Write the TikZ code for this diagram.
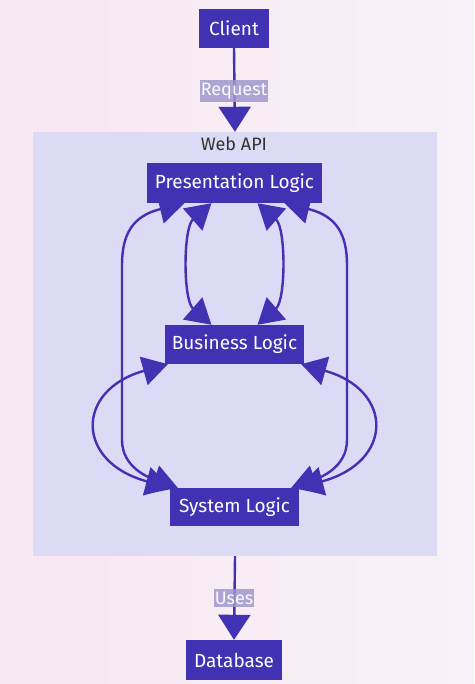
\documentclass[tikz,border=0pt]{standalone}
\usepackage{fontspec}
\setmainfont{Fira Sans}
\usetikzlibrary{arrows.meta}
\definecolor{ind}{HTML}{4131B3}
\definecolor{subg}{HTML}{DCDAF5}
\definecolor{bgl}{HTML}{F7E7F2}
\definecolor{bgr}{HTML}{F9F2F8}
\definecolor{lbl}{HTML}{A198CE}
\begin{document}
\begin{tikzpicture}[x=1pt,y=-1pt,
  box/.style={fill=ind, text=white, font=\fontsize{19}{22}\selectfont, inner sep=0pt, anchor=center},
  elabel/.style={fill=lbl, fill opacity=0.85, text opacity=1, text=white!95!lbl, font=\fontsize{18}{20}\selectfont, inner xsep=1pt, inner ysep=2.5pt},
  link/.style={draw=ind, line width=2.4pt, {Triangle[length=25pt,width=29pt]}-{Triangle[length=25pt,width=29pt]}},
  flow/.style={draw=ind, line width=2.4pt, -{Triangle[length=25pt,width=32pt]}}]
\useasboundingbox (0,0) rectangle (474,684);
\shade[left color=bgl, right color=bgr] (0,0) rectangle (474,684);
\node[fill=subg, minimum width=404pt, minimum height=424pt, inner sep=0pt] (api) at (235,344) {};
\node[text=black!80, font=\fontsize{18}{20}\selectfont] (apilbl) at (234,144) {Web API};
\node[box, minimum width=70pt, minimum height=39pt] (client) at (234,28.5) {Client};
\node[box, minimum width=175pt, minimum height=40pt] (pres) at (234.5,183) {Presentation Logic};
\node[box, minimum width=139pt, minimum height=39pt] (bus) at (234.5,344.5) {Business Logic};
\node[box, minimum width=129pt, minimum height=38pt] (sys) at (234.5,507) {System Logic};
\node[box, minimum width=96pt, minimum height=40pt] (db) at (234,660) {Database};
% external flows
\draw[flow] (client.south) -- (api.north);
\node[elabel] (req) at (234,91) {Request};
\draw[flow] (api.south) -- (db.north);
\node[elabel] (uses) at (234,598) {Uses};
% Presentation <-> Business
\draw[link] ([xshift=-23pt]pres.south) .. controls (183,228) and (183,300) .. ([xshift=-23pt]bus.north);
\draw[link] ([xshift=23pt]pres.south) .. controls (286,228) and (286,300) .. ([xshift=23pt]bus.north);
% Presentation <-> System
\draw[link] ([xshift=-50pt]pres.south) .. controls (132,216) and (122,235) .. (122,265) -- (122,440) .. controls (122,468) and (150,478) .. ([xshift=8pt]sys.north west);
\draw[link] ([xshift=50pt]pres.south) .. controls (337,216) and (347,235) .. (347,265) -- (347,440) .. controls (347,468) and (319,478) .. ([xshift=-8pt]sys.north east);
% Business <-> System
\draw[link] ([xshift=3pt]bus.south west) .. controls (75,390) and (75,462) .. ([xshift=1pt]sys.north west);
\draw[link] ([xshift=-3pt]bus.south east) .. controls (394,390) and (394,462) .. ([xshift=-1pt]sys.north east);
\end{tikzpicture}
\end{document}
